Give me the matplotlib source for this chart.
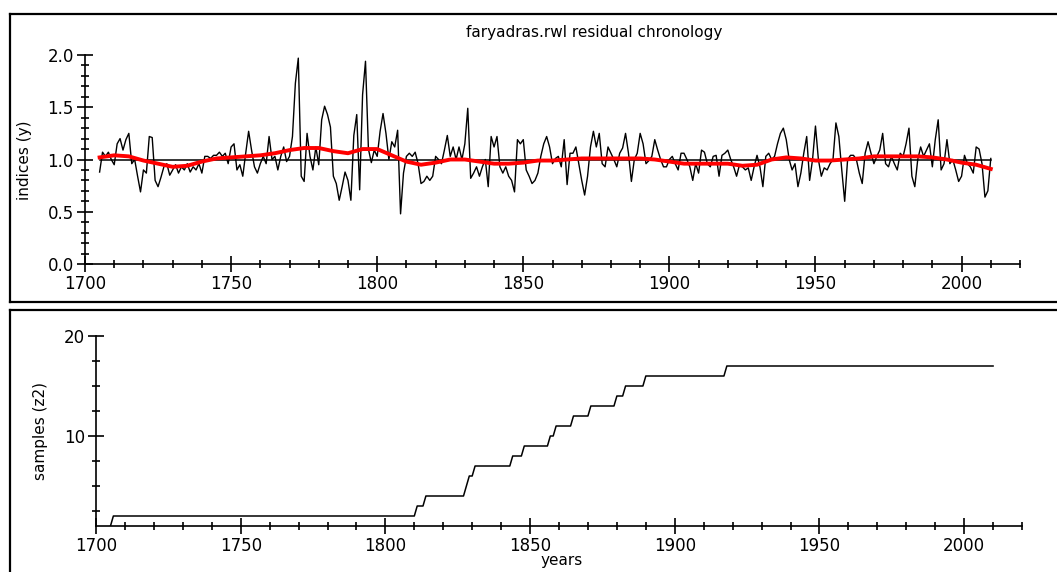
import numpy as np
import matplotlib.pyplot as plt
from matplotlib.ticker import MultipleLocator
from matplotlib.lines import Line2D

# --- data ---
years = np.arange(1705, 2011)

indices = [
    0.88, 1.07, 1.03, 1.07, 1.00, 0.95, 1.15, 1.20, 1.09, 1.19,   # 1705
    1.25, 0.96, 1.00, 0.84, 0.69, 0.90, 0.87, 1.22, 1.21, 0.80,   # 1715
    0.74, 0.83, 0.93, 0.96, 0.85, 0.90, 0.95, 0.87, 0.93, 0.90,   # 1725
    0.96, 0.88, 0.93, 0.90, 0.96, 0.87, 1.03, 1.03, 1.01, 1.04,   # 1735
    1.04, 1.07, 1.03, 1.06, 0.96, 1.12, 1.15, 0.90, 0.95, 0.84,   # 1745
    1.06, 1.27, 1.09, 0.93, 0.87, 0.96, 1.03, 0.96, 1.22, 1.00,   # 1755
    1.03, 0.90, 1.03, 1.12, 0.98, 1.03, 1.22, 1.73, 1.97, 0.84,   # 1765
    0.79, 1.25, 1.03, 0.90, 1.12, 0.95, 1.38, 1.51, 1.43, 1.31,   # 1775
    0.84, 0.77, 0.61, 0.74, 0.88, 0.80, 0.61, 1.23, 1.43, 0.71,   # 1785
    1.62, 1.94, 1.10, 0.97, 1.09, 1.03, 1.27, 1.44, 1.25, 1.00,   # 1795
    1.17, 1.12, 1.28, 0.48, 0.87, 1.03, 1.06, 1.03, 1.07, 0.96,   # 1805
    0.77, 0.79, 0.84, 0.80, 0.84, 1.03, 1.00, 0.96, 1.09, 1.23,   # 1815
    1.03, 1.12, 1.00, 1.12, 1.00, 1.15, 1.49, 0.82, 0.87, 0.93,   # 1825
    0.84, 0.93, 1.00, 0.74, 1.22, 1.12, 1.22, 0.93, 0.87, 0.93,   # 1835
    0.84, 0.80, 0.69, 1.19, 1.15, 1.19, 0.90, 0.84, 0.77, 0.80,   # 1845
    0.87, 1.03, 1.15, 1.22, 1.12, 0.96, 1.01, 1.03, 0.93, 1.19,   # 1855
    0.76, 1.06, 1.06, 1.12, 0.96, 0.80, 0.66, 0.84, 1.12, 1.27,   # 1865
    1.12, 1.25, 0.96, 0.93, 1.12, 1.06, 1.00, 0.93, 1.06, 1.11,   # 1875
    1.25, 1.06, 0.79, 1.00, 1.06, 1.25, 1.15, 0.96, 0.99, 1.03,   # 1885
    1.19, 1.09, 1.00, 0.93, 0.93, 1.00, 1.03, 0.96, 0.90, 1.06,   # 1895
    1.06, 1.00, 0.93, 0.80, 0.96, 0.87, 1.09, 1.07, 0.96, 0.93,   # 1905
    1.03, 1.04, 0.84, 1.04, 1.06, 1.09, 1.00, 0.93, 0.84, 0.95,   # 1915
    0.93, 0.90, 0.92, 0.80, 0.93, 1.04, 0.93, 0.74, 1.03, 1.06,   # 1925
    1.00, 1.03, 1.15, 1.25, 1.30, 1.19, 1.00, 0.90, 0.96, 0.74,   # 1935
    0.87, 1.06, 1.22, 0.80, 1.00, 1.32, 1.00, 0.84, 0.92, 0.90,   # 1945
    0.96, 1.00, 1.35, 1.22, 0.90, 0.60, 1.00, 1.04, 1.04, 1.00,   # 1955
    0.87, 0.77, 1.06, 1.17, 1.06, 0.96, 1.03, 1.09, 1.25, 0.96,   # 1965
    0.93, 1.03, 0.96, 0.90, 1.06, 1.03, 1.15, 1.30, 0.84, 0.74,   # 1975
    1.00, 1.12, 1.03, 1.09, 1.15, 0.93, 1.19, 1.38, 0.90, 0.96,   # 1985
    1.19, 0.96, 1.00, 0.90, 0.79, 0.84, 1.04, 0.96, 0.93, 0.87,   # 1995
    1.12, 1.10, 0.96, 0.64, 0.70, 1.01,                           # 2005
]

# red smoothing curve, read every 5 years
spline_years = np.arange(1705, 2011, 5)
spline_vals = [1.02, 1.04, 1.03, 0.99, 0.96, 0.93, 0.94, 0.98, 1.01, 1.02,
               1.03, 1.04, 1.06, 1.09, 1.11, 1.11, 1.08, 1.06, 1.10, 1.10,
               1.04, 0.98, 0.95, 0.97, 1.00, 1.00, 0.98, 0.96, 0.96, 0.97,
               0.99, 0.99, 1.00, 1.01, 1.01, 1.01, 1.01, 1.01, 1.00, 0.98,
               0.96, 0.96, 0.96, 0.96, 0.94, 0.95, 1.00, 1.02, 1.01, 0.99,
               0.99, 1.00, 1.01, 1.03, 1.03, 1.03, 1.03, 1.02, 1.00, 0.97,
               0.95, 0.91]

# sample depth: year where the count changes, and the new count
depth_years = [1705, 1706, 1811, 1814, 1828, 1829, 1831, 1844, 1848,
               1857, 1859, 1865, 1871, 1880, 1883, 1890, 1918]
depth_counts = [1, 2, 3, 4, 5, 6, 7, 8, 9, 10, 11, 12, 13, 14, 15, 16, 17]

samples = []
for y in years:
    n = depth_counts[0]
    for yy, c in zip(depth_years, depth_counts):
        if y >= yy:
            n = c
    samples.append(n)

W, H = 1057, 572
fig = plt.figure(figsize=(W / 100, H / 100), dpi=100)
plt.rcParams['font.family'] = 'DejaVu Sans'


def fx(px):
    return px / W


def fy(py):
    return 1 - py / H


# panel frames (right side runs off the picture)
for (x0, x1, y0, y1) in [(10, 1070, 14, 14), (10, 1070, 302, 302), (10, 10, 14, 302),
                         (10, 1070, 310, 310), (10, 10, 310, 580)]:
    fig.add_artist(Line2D([fx(x0), fx(x1)], [fy(y0), fy(y1)], color='black', lw=1.6))


def style_axes(ax):
    for s in ['top', 'right']:
        ax.spines[s].set_visible(False)
    for s in ['left', 'bottom']:
        ax.spines[s].set_linewidth(1.2)
    ax.tick_params(which='major', direction='inout', length=12, width=1.2, labelsize=12, pad=2)
    ax.tick_params(which='minor', direction='inout', length=6, width=1.2)
    ax.set_facecolor('none')


# --- top: residual chronology ---
ax1 = fig.add_axes([fx(85), fy(264), (1020 - 85) / W, (264 - 55) / H])
style_axes(ax1)
ax1.set_xlim(1700, 2020)
ax1.set_ylim(0, 2)
ax1.xaxis.set_major_locator(MultipleLocator(50))
ax1.xaxis.set_minor_locator(MultipleLocator(10))
ax1.yaxis.set_major_locator(MultipleLocator(0.5))
ax1.yaxis.set_minor_locator(MultipleLocator(0.1))
ax1.yaxis.set_major_formatter(lambda v, p: f'{v:.1f}')
ax1.plot([years[0], years[-1]], [1, 1], color='black', lw=1.1)
ax1.plot(years, indices, color='black', lw=1.0)
ax1.plot(spline_years, spline_vals, color='red', lw=2.8)

fig.text(fx(594), fy(32), 'faryadras.rwl residual chronology', ha='center', va='center', fontsize=11)
fig.text(fx(25), fy(160), 'indices (y)', ha='center', va='center', rotation=90, fontsize=11)

# --- bottom: sample depth ---
ax2 = fig.add_axes([fx(96), fy(526), (1022 - 96) / W, (526 - 336) / H])
style_axes(ax2)
ax2.set_xlim(1700, 2020)
ax2.set_ylim(1, 20)
ax2.xaxis.set_major_locator(MultipleLocator(50))
ax2.xaxis.set_minor_locator(MultipleLocator(10))
ax2.yaxis.set_major_locator(MultipleLocator(10))
ax2.yaxis.set_minor_locator(MultipleLocator(2.5))
ax2.plot(years, samples, color='black', lw=1.1)

fig.text(fx(40), fy(431), 'samples (z2)', ha='center', va='center', rotation=90, fontsize=11)
fig.text(fx(562), fy(561), 'years', ha='center', va='center', fontsize=11)

fig.savefig('out.png', dpi=100)
